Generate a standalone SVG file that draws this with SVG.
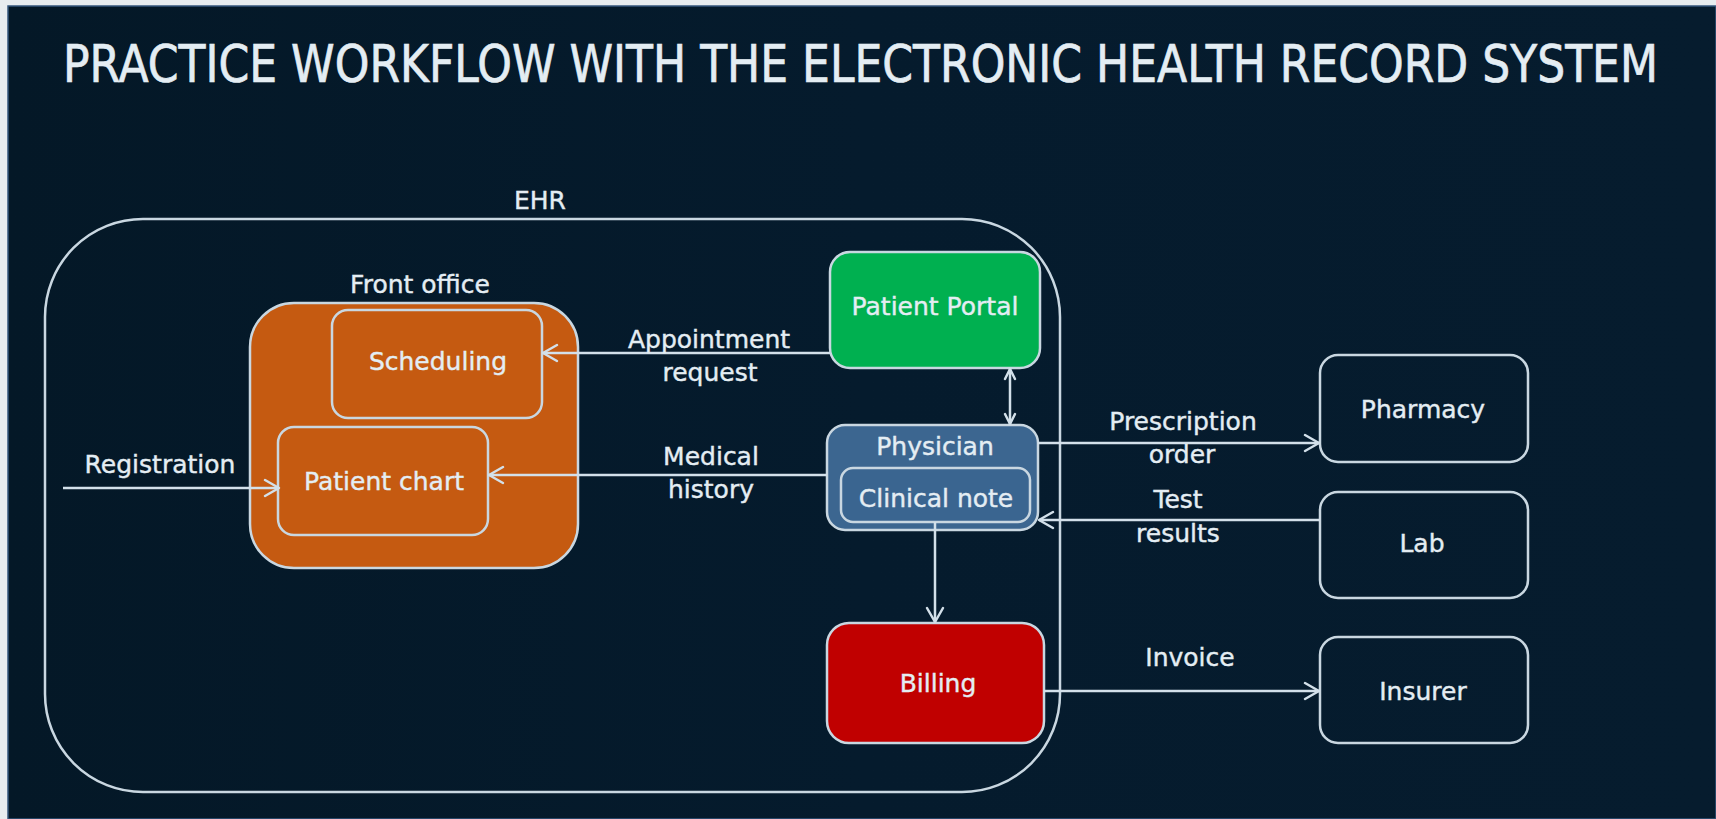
<svg xmlns="http://www.w3.org/2000/svg" width="1716" height="819" viewBox="0 0 1716 819">
<defs>
<linearGradient id="bg" x1="0" y1="0" x2="1" y2="0">
<stop offset="0" stop-color="#041827"/>
<stop offset="0.5" stop-color="#051b2d"/>
<stop offset="1" stop-color="#061c2e"/>
</linearGradient>
<marker id="arr" markerUnits="userSpaceOnUse" markerWidth="20" markerHeight="20" viewBox="0 0 20 20" refX="16" refY="10" orient="auto-start-reverse">
<path d="M2,2 L16,10 L2,18" fill="none" stroke="#d3e0ea" stroke-width="2.5" stroke-linecap="round" stroke-linejoin="round"/>
</marker>
<marker id="arrs" markerUnits="userSpaceOnUse" markerWidth="14" markerHeight="14" viewBox="0 0 14 14" refX="12" refY="7" orient="auto-start-reverse">
<path d="M2,2 L12,7 L2,12" fill="none" stroke="#d3e0ea" stroke-width="2.5" stroke-linecap="round" stroke-linejoin="round"/>
</marker>
</defs>
<style>
text{font-family:"DejaVu Sans","Liberation Sans",sans-serif;fill:#e4edf3;stroke:#e4edf3;stroke-width:0.4;font-size:25px;text-anchor:middle}
.title{font-size:43.8px;text-anchor:start;stroke-width:0.6}
.box{stroke:#c9d7e1;stroke-width:2.5}
.conn line{stroke:#d3e0ea;stroke-width:2.5}
</style>
<rect width="1716" height="819" fill="#e8ecef"/>
<rect x="8" y="6" width="1708" height="813" fill="url(#bg)" stroke="#34567c" stroke-width="1.5"/>
<text class="title" x="63" y="68.9" transform="scale(1,1.19)" textLength="1595" lengthAdjust="spacingAndGlyphs">PRACTICE WORKFLOW WITH THE ELECTRONIC HEALTH RECORD SYSTEM</text>

<g id="ehr">
<rect class="box" x="45" y="219" width="1015" height="573" rx="98" ry="98" fill="none"/>
<text x="540" y="209">EHR</text>
</g>
<g id="front-office">
<rect class="box" x="250" y="303" width="328" height="265" rx="44" fill="#c55a11"/>
<text x="420" y="293">Front office</text>
</g>
<g id="scheduling">
<rect class="box" x="332" y="310" width="210" height="108" rx="16" fill="#c55a11"/>
<text x="438" y="370">Scheduling</text>
</g>
<g id="patient-chart">
<rect class="box" x="278" y="427" width="210" height="108" rx="16" fill="#c55a11"/>
<text x="384" y="490">Patient chart</text>
</g>
<g id="patient-portal">
<rect class="box" x="830" y="252" width="210" height="116" rx="20" fill="#00b050"/>
<text x="935" y="315">Patient Portal</text>
</g>
<g id="physician">
<rect class="box" x="827" y="425" width="211" height="105" rx="18" fill="#3c6690"/>
<text x="935" y="455">Physician</text>
</g>
<g id="clinical-note">
<rect class="box" x="841" y="468" width="189" height="54" rx="12" fill="#3a6590"/>
<text x="936" y="507">Clinical note</text>
</g>
<g id="billing">
<rect class="box" x="827" y="623" width="217" height="120" rx="22" fill="#c00000"/>
<text x="938" y="692">Billing</text>
</g>
<g id="pharmacy">
<rect class="box" x="1320" y="355" width="208" height="107" rx="18" fill="none"/>
<text x="1423" y="418">Pharmacy</text>
</g>
<g id="lab">
<rect class="box" x="1320" y="492" width="208" height="106" rx="18" fill="none"/>
<text x="1422" y="552">Lab</text>
</g>
<g id="insurer">
<rect class="box" x="1320" y="637" width="208" height="106" rx="18" fill="none"/>
<text x="1423" y="700">Insurer</text>
</g>

<g id="connectors" class="conn">
<line x1="830" y1="353" x2="543" y2="353" marker-end="url(#arr)"/>
<text x="709" y="348">Appointment</text>
<text x="710" y="381">request</text>
<line x1="827" y1="475" x2="489" y2="475" marker-end="url(#arr)"/>
<text x="711" y="465">Medical</text>
<text x="711" y="498">history</text>
<line x1="63" y1="488" x2="279" y2="488" marker-end="url(#arr)"/>
<text x="160" y="473">Registration</text>
<line x1="1010" y1="369" x2="1010" y2="424" marker-start="url(#arrs)" marker-end="url(#arrs)"/>
<line x1="1038" y1="443" x2="1319" y2="443" marker-end="url(#arr)"/>
<text x="1183" y="430">Prescription</text>
<text x="1182" y="463">order</text>
<line x1="1320" y1="520" x2="1039" y2="520" marker-end="url(#arr)"/>
<text x="1178" y="508">Test</text>
<text x="1178" y="542">results</text>
<line x1="935" y1="522" x2="935" y2="622" marker-end="url(#arr)"/>
<line x1="1044" y1="691" x2="1319" y2="691" marker-end="url(#arr)"/>
<text x="1190" y="666">Invoice</text>
</g>
</svg>
